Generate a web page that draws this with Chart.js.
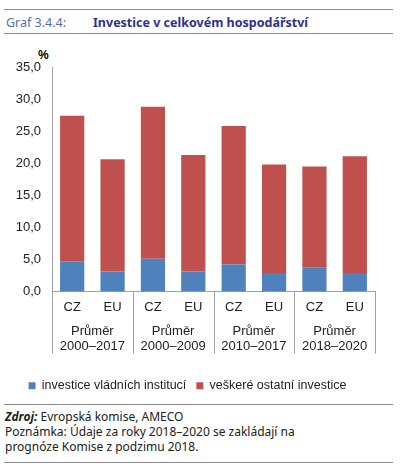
<!DOCTYPE html>
<html><head><meta charset="utf-8">
<script src="https://cdn.jsdelivr.net/npm/chart.js@4"></script>
<style>
body{margin:0;width:400px;height:467px;position:relative;background:#fff;font-family:"Liberation Sans",Arial,sans-serif;overflow:hidden}
.ln{position:absolute;left:4px;width:389px;height:0;border-top:1.5px solid #8a8a8a}
#hdr{position:absolute;left:6px;top:14px;font-family:"Noto Sans",sans-serif;font-size:12.5px}
#g{color:#5570a8}
#t{color:#2e3192;font-weight:bold;position:absolute;left:87px;white-space:nowrap;top:0}
#pct{position:absolute;left:38px;top:48px;font-size:12px;font-weight:bold}
#wrap{position:absolute;left:0;top:47px;width:400px;height:355px}
#foot{position:absolute;left:5px;top:409px;font-family:"Noto Sans",sans-serif;font-size:12px;line-height:15px;color:#222}
</style></head><body>
<div class="ln" style="top:9px"></div>
<div id="hdr"><span id="g">Graf 3.4.4:</span><span id="t">Investice v celkovém hospodářství</span></div>
<div class="ln" style="top:33px"></div>
<div id="pct">%</div>
<div id="wrap"><canvas id="c"></canvas></div>
<div class="ln" style="top:404px"></div>
<div id="foot"><b><i>Zdroj:</i></b> Evropská komise, AMECO<br>Poznámka: Údaje za roky 2018–2020 se zakládají na<br>prognóze Komise z podzimu 2018.</div>
<div class="ln" style="top:462px"></div>
<script>
const categories=["CZ","EU","CZ","EU","CZ","EU","CZ","EU"];
const groups=[["Průměr","2000–2017"],["Průměr","2000–2009"],["Průměr","2010–2017"],["Průměr","2018–2020"]];
const govInvest=[4.7,3.1,5.1,3.1,4.2,2.9,3.8,2.9];
const otherInvest=[22.7,17.5,23.7,18.2,21.6,16.9,15.7,18.2];
const yTicks=[0,5,10,15,20,25,30,35];

const groupPlugin={id:'grp',afterDraw(ch){
  const x=ch.scales.x,ctx=ch.ctx,top=ch.chartArea.bottom;
  ctx.save();ctx.strokeStyle='#a0a0a0';ctx.lineWidth=1;
  const step=x.getPixelForValue(1)-x.getPixelForValue(0);
  for(let g=0;g<=groups.length;g++){
    const px=Math.round(x.getPixelForValue(g*2)-step/2)+0.5;
    ctx.beginPath();ctx.moveTo(px,top);ctx.lineTo(px,top+62);ctx.stroke();
  }
  ctx.fillStyle='#222';ctx.font='13px "Liberation Sans", Arial';ctx.textAlign='center';ctx.textBaseline='middle';
  groups.forEach((lab,g)=>{
    const cx=(x.getPixelForValue(g*2)+x.getPixelForValue(g*2+1))/2;
    ctx.fillText(lab[0],cx,top+40);ctx.fillText(lab[1],cx,top+55);
  });
  ctx.restore();
}};

new Chart(document.getElementById('c'),{
  type:'bar',
  data:{labels:categories,datasets:[
    {label:'investice vládních institucí',data:govInvest,backgroundColor:'#4f81bd',barPercentage:0.6,categoryPercentage:1},
    {label:'veškeré ostatní investice',data:otherInvest,backgroundColor:'#c0504d',barPercentage:0.6,categoryPercentage:1}
  ]},
  options:{
    responsive:true,maintainAspectRatio:false,animation:false,
    layout:{padding:{left:0,right:25,top:20,bottom:0}},
    plugins:{tooltip:{enabled:false},
      legend:{position:'bottom',labels:{boxWidth:7,boxHeight:7,padding:10,color:'#222',font:{size:12.5,family:'"Liberation Sans", Arial'}}}},
    scales:{
      x:{stacked:true,grid:{display:false},border:{color:'#a0a0a0'},
        ticks:{color:'#222',font:{size:13,family:'"Liberation Sans", Arial'},padding:0},
        afterFit(s){s.height=78;}},
      y:{stacked:true,min:0,max:35,grid:{display:false},border:{color:'#a0a0a0'},
        afterBuildTicks(s){s.ticks=yTicks.map(v=>({value:v}));},
        ticks:{color:'#222',font:{size:13,family:'"Liberation Sans", Arial'},callback:v=>v.toFixed(1).replace('.',',')},
        afterFit(s){s.width=52;}}
    }
  },
  plugins:[groupPlugin]
});
</script></body></html>
